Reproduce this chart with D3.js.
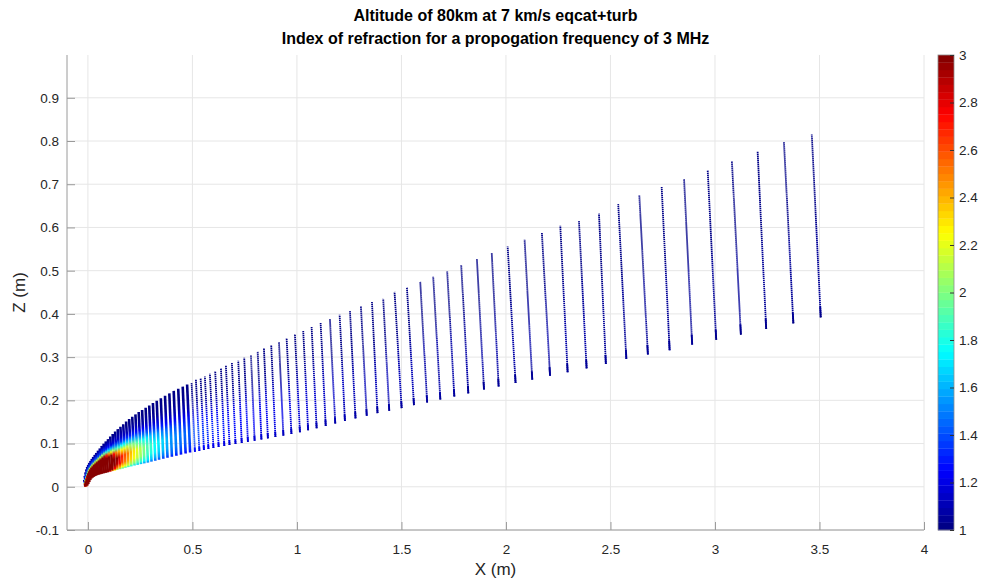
<!DOCTYPE html>
<html><head><meta charset="utf-8">
<script src="https://cdn.jsdelivr.net/npm/d3@7"></script>
<style>
body{margin:0;background:#fff}
svg{display:block}
text{font-family:"Liberation Sans",Arial,Helvetica,sans-serif}
</style>
</head><body>
<svg id="c" width="984" height="585"></svg>
<script>
// ---------------- data ----------------
const titleLines = ["Altitude of 80km at 7 km/s eqcat+turb",
                    "Index of refraction for a propogation frequency of 3 MHz"];
const xLabel = "X (m)";
const yLabel = "Z (m)";
const xTicks = [0, 0.5, 1, 1.5, 2, 2.5, 3, 3.5, 4];
const xTickLabels = ["0","0.5","1","1.5","2","2.5","3","3.5","4"];
const yTicks = [-0.1, 0, 0.1, 0.2, 0.3, 0.4, 0.5, 0.6, 0.7, 0.8, 0.9];
const yTickLabels = ["-0.1","0","0.1","0.2","0.3","0.4","0.5","0.6","0.7","0.8","0.9"];
const cTicks = [1, 1.2, 1.4, 1.6, 1.8, 2, 2.2, 2.4, 2.6, 2.8, 3];
const cTickLabels = ["1","1.2","1.4","1.6","1.8","2","2.2","2.4","2.6","2.8","3"];

// each ray-front line: top end (x,z) and bottom end (x,z), in metres
const lineTopX = [-0.0177,-0.0153,-0.0120,-0.0081,-0.0038,0.0010,0.0062,0.0120,0.0182,0.0249,0.0321,0.0397,0.0478,0.0565,0.0656,0.0751,0.0852,0.0957,0.1067,0.1182,0.1301,0.1426,0.1555,0.1689,0.1828,0.1971,0.2120,0.2273,0.2431,0.2593,0.2761,0.2933,0.3110,0.3292,0.3488,0.3689,0.3895,0.4105,0.4321,0.4536,0.4746,
  0.4962,0.5167,0.5392,0.5598,0.5837,0.6091,0.6364,0.6603,0.6890,0.7191,0.7478,0.7799,0.8120,0.8421,0.8770,0.9139,0.9507,0.9904,1.0301,1.0703,1.1134,1.1579,1.2043,1.2536,1.3062,1.3589,1.4129,
  1.467,1.526,1.590,1.652,1.719,1.786,1.861,1.932,2.008,2.089,2.172,2.260,2.349,2.445,2.537,2.638,2.745,2.852,2.965,3.081,3.204,3.330,3.463];
const lineTopZ = [0.0162,0.0255,0.0336,0.0405,0.0463,0.0509,0.0556,0.0602,0.0648,0.0694,0.0741,0.0787,0.0838,0.0889,0.0944,0.1000,0.1051,0.1104,0.1164,0.1222,0.1278,0.1333,0.1389,0.1447,0.1509,0.1567,0.1620,0.1676,0.1729,0.1775,0.1829,0.1882,0.1938,0.1991,0.2049,0.2106,0.2162,0.2218,0.2269,0.2317,0.2366,
  0.2400,0.2477,0.2507,0.2553,0.2616,0.2678,0.2738,0.2801,0.2863,0.2917,0.2986,0.3056,0.3132,0.3211,0.3280,0.3356,0.3442,0.3535,0.3618,0.3697,0.3789,0.3882,0.3981,0.4067,0.4183,0.4275,0.4352,
  0.451,0.462,0.474,0.486,0.498,0.513,0.527,0.541,0.556,0.572,0.587,0.604,0.616,0.632,0.654,0.674,0.694,0.712,0.733,0.754,0.776,0.798,0.815];
const lineBotX = [-0.0120,-0.0072,-0.0024,0.0024,0.0072,0.0120,0.0167,0.0230,0.0287,0.0359,0.0431,0.0502,0.0589,0.0670,0.0766,0.0861,0.0957,0.1067,0.1177,0.1292,0.1411,0.1536,0.1665,0.1799,0.1938,0.2081,0.2230,0.2383,0.2541,0.2703,0.2871,0.3043,0.3225,0.3407,0.3608,0.3809,0.4019,0.4234,0.4455,0.4675,0.4890,
  0.5120,0.5335,0.5550,0.5766,0.6005,0.6254,0.6526,0.6775,0.7062,0.7359,0.7656,0.7976,0.8301,0.8612,0.8971,0.9354,0.9737,1.0144,1.0536,1.0943,1.1378,1.1833,1.2297,1.2804,1.3340,1.3856,1.4416,
  1.501,1.560,1.623,1.686,1.753,1.820,1.895,1.965,2.046,2.126,2.211,2.295,2.386,2.478,2.576,2.679,2.783,2.891,3.006,3.124,3.245,3.375,3.506];
const lineBotZ = [0,0,0.0023,0.0058,0.0104,0.0150,0.0185,0.0208,0.0231,0.0248,0.0262,0.0273,0.0287,0.0299,0.0310,0.0322,0.0333,0.0347,0.0361,0.0375,0.0391,0.0405,0.0421,0.0438,0.0454,0.0472,0.0491,0.0507,0.0523,0.0542,0.0560,0.0581,0.0602,0.0625,0.0648,0.0671,0.0694,0.0718,0.0745,0.0769,0.0792,
  0.0810,0.0831,0.0852,0.0873,0.0896,0.0919,0.0944,0.0965,0.0988,0.1014,0.1039,0.1065,0.1095,0.1120,0.1150,0.1183,0.1220,0.1262,0.1308,0.1354,0.1407,0.1463,0.1523,0.1583,0.1644,0.1704,0.1759,
  0.182,0.189,0.195,0.202,0.209,0.216,0.225,0.232,0.240,0.248,0.257,0.265,0.274,0.284,0.296,0.306,0.316,0.329,0.340,0.352,0.365,0.378,0.392];
// peak index of refraction along each line (values above 3 saturate)
const linePeak = [3.5,4,4.5,5,5.5,6,6,6,6,6,6,6,6,6,5.8,5.3,4.8,4.2,3.7,3.3,3.0,2.85,2.7,2.6,2.5,2.4,2.3,2.2,2.1,2.0,1.92,1.85,1.78,1.72,1.66,1.6,1.55,1.51,1.47,1.44,1.42,
  1.40,1.38,1.36,1.34,1.32,1.30,1.29,1.28,1.27,1.26,1.25,1.24,1.23,1.22,1.21,1.20,1.19,1.18,1.17,1.16,1.15,1.14,1.13,1.12,1.12,1.11,1.10,
  1.10,1.10,1.09,1.09,1.09,1.08,1.08,1.08,1.08,1.07,1.07,1.07,1.07,1.06,1.06,1.06,1.06,1.06,1.05,1.05,1.05,1.05,1.05];
// relative excess of the index along a line, bottom (0) to top (1)
const profileFrac  = [0, 0.05, 0.15, 0.3, 0.45, 0.55, 0.65, 0.75, 0.9, 1];
const profileShape = [0.55, 0.75, 0.95, 1, 0.75, 0.45, 0.22, 0.08, 0.02, 0];
const nDense = 41;

// ---------------- chart ----------------
const svg = d3.select("#c");
const L = 67, R = 924, T = 55, B = 530;
const x = d3.scaleLinear().domain([-0.1, 4]).range([L, R]);
const y = d3.scaleLinear().domain([-0.1, 0.999]).range([B, T]);
const cNorm = d3.scaleLinear().domain([1, 3]).range([0, 1]).clamp(true);

function jet(v) {
  const idx = Math.min(63, Math.max(0, Math.floor(v * 64)));
  const t = (idx + 0.5) / 64;
  const cl = a => Math.max(0, Math.min(1, a));
  const r = cl(1.5 - Math.abs(4 * t - 3)), g = cl(1.5 - Math.abs(4 * t - 2)), b = cl(1.5 - Math.abs(4 * t - 1));
  return d3.rgb(r * 255, g * 255, b * 255).formatHex();
}

// grid
const grid = svg.append("g");
grid.selectAll(".gx").data(xTicks).join("line")
  .attr("x1", d => x(d)).attr("x2", d => x(d)).attr("y1", T).attr("y2", B)
  .attr("stroke", "#e6e6e6").attr("stroke-width", 1);
grid.selectAll(".gy").data(yTicks).join("line")
  .attr("x1", L).attr("x2", R).attr("y1", d => y(d)).attr("y2", d => y(d))
  .attr("stroke", "#e6e6e6").attr("stroke-width", 1);

// lines
const defs = svg.append("defs");
const idx = d3.range(lineTopX.length);
idx.forEach(i => {
  const g = defs.append("linearGradient").attr("id", "g" + i)
    .attr("gradientUnits", "userSpaceOnUse")
    .attr("x1", x(lineBotX[i])).attr("y1", y(lineBotZ[i]))
    .attr("x2", x(lineTopX[i])).attr("y2", y(lineTopZ[i]));
  profileFrac.forEach((f, k) => {
    const val = 1 + (linePeak[i] - 1) * profileShape[k];
    g.append("stop").attr("offset", f).attr("stop-color", jet(cNorm(val)));
  });
});
const lg = svg.append("g");
idx.forEach(i => {
  const x1 = x(lineBotX[i]), y1 = y(lineBotZ[i]), x2 = x(lineTopX[i]), y2 = y(lineTopZ[i]);
  if (i < nDense) {
    lg.append("line").attr("x1", x1).attr("y1", y1).attr("x2", x2).attr("y2", y2)
      .attr("stroke", `url(#g${i})`).attr("stroke-width", 2.6);
  } else {
    lg.append("line").attr("x1", x1).attr("y1", y1).attr("x2", x2).attr("y2", y2)
      .attr("stroke", `url(#g${i})`).attr("stroke-width", 1.8)
      .attr("stroke-dasharray", "1.4,0.6");
    lg.append("line").attr("x1", x1).attr("y1", y1)
      .attr("x2", x1 + (x2 - x1) * 0.06).attr("y2", y1 + (y2 - y1) * 0.06)
      .attr("stroke", `url(#g${i})`).attr("stroke-width", 1.9);
  }
});

// axes
const axCol = "#9a9a9a", txtCol = "#262626";
const xa = svg.append("g").attr("transform", `translate(0,${B})`)
  .call(d3.axisBottom(x).tickValues(xTicks).tickFormat((d, i) => xTickLabels[i]).tickSize(-8).tickPadding(14));
const ya = svg.append("g").attr("transform", `translate(${L},0)`)
  .call(d3.axisLeft(y).tickValues(yTicks).tickFormat((d, i) => yTickLabels[i]).tickSize(-8).tickPadding(8));
[xa, ya].forEach(a => {
  a.select(".domain").attr("stroke", axCol);
  a.selectAll(".tick line").attr("stroke", axCol);
  a.selectAll(".tick text").attr("fill", txtCol).style("font-size", "13.5px")
    .style("font-family", "'Liberation Sans',Arial,sans-serif");
});
ya.select(".domain").attr("d", `M-0,${B}V${T}`);
xa.select(".domain").attr("d", `M${L},0H${R}`);

svg.append("text").attr("x", (L + R) / 2).attr("y", 575).attr("text-anchor", "middle")
  .attr("fill", txtCol).style("font-size", "17px").text(xLabel);
svg.append("text").attr("transform", `translate(25,${(T + B) / 2}) rotate(-90)`).attr("text-anchor", "middle")
  .attr("fill", txtCol).style("font-size", "17px").text(yLabel);

titleLines.forEach((t, k) => {
  svg.append("text").attr("x", (L + R) / 2).attr("y", 21 + k * 23).attr("text-anchor", "middle")
    .attr("fill", "#000").style("font-size", "16px").style("font-weight", "bold").text(t);
});

// colorbar
const cbX = 938, cbW = 16;
const cy = d3.scaleLinear().domain([1, 3]).range([B, T]);
const levels = d3.range(64);
const cbH = (B - T) / 64;
svg.append("g").selectAll("rect").data(levels).join("rect")
  .attr("x", cbX).attr("width", cbW)
  .attr("y", d => B - (d + 1) * cbH).attr("height", cbH + 0.3)
  .attr("fill", d => jet((d + 0.5) / 64));
svg.append("rect").attr("x", cbX).attr("y", T).attr("width", cbW).attr("height", B - T)
  .attr("fill", "none").attr("stroke", "#8c8c8c").attr("stroke-width", 0.8);
const ca = svg.append("g").attr("transform", `translate(${cbX + cbW},0)`)
  .call(d3.axisRight(cy).tickValues(cTicks).tickFormat((d, i) => cTickLabels[i]).tickSize(-4).tickPadding(5));
ca.select(".domain").remove();
ca.selectAll(".tick line").attr("stroke", "#333");
ca.selectAll(".tick text").attr("fill", txtCol).style("font-size", "13.5px")
  .style("font-family", "'Liberation Sans',Arial,sans-serif");
</script>
</body></html>
